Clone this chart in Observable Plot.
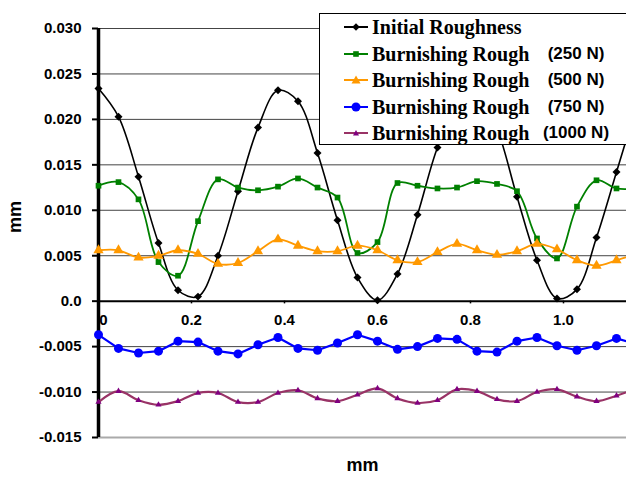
<!DOCTYPE html>
<html><head><meta charset="utf-8">
<script src="https://cdn.jsdelivr.net/npm/d3@7"></script>
<script src="https://cdn.jsdelivr.net/npm/@observablehq/plot@0.6"></script>
<style>
body{margin:0;background:#fff;}
#wrap{position:relative;width:626px;height:480px;overflow:hidden;background:#fff;}
#legend{position:absolute;left:319px;top:13px;width:340px;height:130px;border:1px solid #000;background:#fff;}
.row{position:absolute;left:0;height:24px;width:340px;}
.row svg{position:absolute;left:23px;top:6px;}
.name{position:absolute;left:52px;top:0;line-height:24px;font-family:'Liberation Serif','Times New Roman',serif;font-weight:bold;font-size:20px;color:#000;white-space:nowrap;}
.force{position:absolute;left:206px;width:100px;text-align:center;top:0;line-height:24px;font-family:'Liberation Sans',Arial,sans-serif;font-weight:bold;font-size:17px;color:#000;white-space:nowrap;}
</style>
</head><body>
<div id="wrap"><div id="chart"></div><div id="legend"></div></div>
<script>
// Distance along profile (mm)
const position = [0, 0.043, 0.086, 0.129, 0.171, 0.214, 0.257, 0.3, 0.343, 0.386, 0.429, 0.471, 0.514, 0.557, 0.6, 0.643, 0.686, 0.729, 0.771, 0.814, 0.857, 0.9, 0.943, 0.986, 1.029, 1.071, 1.114, 1.157];

const initialRoughness = [0.0234, 0.0203, 0.0137, 0.0064, 0.0012, 0.0005, 0.0050, 0.0121, 0.0191, 0.0232, 0.0220, 0.0163, 0.0089, 0.0026, 0.0001, 0.0030, 0.0095, 0.0169, 0.0215, 0.0232, 0.0190, 0.0115, 0.0045, 0.0003, 0.0013, 0.0070, 0.0142, 0.0215];
const rough250 = [0.0127, 0.0131, 0.0112, 0.0043, 0.0028, 0.0088, 0.0134, 0.0125, 0.0122, 0.0126, 0.0135, 0.0125, 0.0114, 0.0053, 0.0065, 0.0130, 0.0127, 0.0124, 0.0125, 0.0132, 0.0129, 0.0121, 0.0069, 0.0047, 0.0104, 0.0133, 0.0124, 0.0124];
const rough500 = [0.0056, 0.0056, 0.0048, 0.0050, 0.0056, 0.0052, 0.0041, 0.0042, 0.0055, 0.0068, 0.0061, 0.0055, 0.0055, 0.0061, 0.0056, 0.0045, 0.0043, 0.0054, 0.0063, 0.0056, 0.0051, 0.0055, 0.0063, 0.0057, 0.0045, 0.0039, 0.0045, 0.0052];
const rough750 = [-0.0037, -0.0052, -0.0057, -0.0055, -0.0044, -0.0045, -0.0055, -0.0058, -0.0048, -0.0040, -0.0052, -0.0054, -0.0046, -0.0037, -0.0044, -0.0053, -0.0050, -0.0041, -0.0042, -0.0055, -0.0056, -0.0044, -0.0040, -0.0049, -0.0054, -0.0049, -0.0041, -0.0047];
const rough1000 = [-0.0111, -0.0099, -0.0109, -0.0114, -0.0110, -0.0101, -0.0101, -0.0111, -0.0111, -0.0101, -0.0098, -0.0107, -0.0110, -0.0103, -0.0096, -0.0107, -0.0112, -0.0109, -0.0097, -0.0099, -0.0108, -0.0110, -0.0100, -0.0097, -0.0105, -0.0110, -0.0104, -0.0096];

const seriesNames = ["Initial Roughness", "Burnishing Rough", "Burnishing Rough", "Burnishing Rough", "Burnishing Rough"];
const seriesForces = ["", "(250 N)", "(500 N)", "(750 N)", "(1000 N)"];

const yTicks = [-0.015, -0.010, -0.005, 0, 0.005, 0.010, 0.015, 0.020, 0.025, 0.030];
const gridTicks = [-0.010, -0.005, 0.005, 0.010, 0.015, 0.020, 0.025, 0.030];
const xTicks = [0, 0.2, 0.4, 0.6, 0.8, 1.0];
const xTickLabels = ["0", "0.2", "0.4", "0.6", "0.8", "1.0"];
const axisTitle = "mm";

// styles
const styles = [
  {line: "#000000", fill: "#000000", symbol: "diamond2", r: 3.6, width: 1.6, curve: "catmull-rom"},
  {line: "#008000", fill: "#008000", symbol: "square", r: 3.2, width: 1.8, curve: "catmull-rom"},
  {line: "#FF9900", fill: "#FF9900", symbol: "triangle", r: 3.8, width: 1.8, curve: "catmull-rom"},
  {line: "#0000FF", fill: "#0000FF", symbol: "circle", r: 4.5, width: 2.2, curve: "linear"},
  {line: "#993366", fill: "#800080", symbol: "triangle", r: 2.3, width: 2.2, curve: "catmull-rom"}
];
const valueLists = [initialRoughness, rough250, rough500, rough750, rough1000];

const seriesMarks = valueLists.flatMap((vals, k) => {
  const rows = position.map((p, i) => ({x: p, y: vals[i]}));
  const s = styles[k];
  return [
    Plot.line(rows, {x: "x", y: "y", stroke: s.line, strokeWidth: s.width, curve: s.curve}),
    Plot.dot(rows, {x: "x", y: "y", symbol: () => s.symbol, r: s.r, fill: s.fill, stroke: "none"})
  ];
});

const chart = Plot.plot({
  width: 626, height: 480,
  marginLeft: 98, marginRight: 0, marginTop: 28, marginBottom: 43,
  x: {domain: [0, 1.1355], axis: null},
  y: {domain: [-0.015, 0.030], axis: null},
  symbol: {type: "identity"},
  style: {fontFamily: "'Liberation Sans', Arial, sans-serif", background: "white", color: "#000"},
  marks: [
    Plot.ruleY(gridTicks, {stroke: "#444", strokeWidth: 1}),
    Plot.ruleY([-0.015], {stroke: "#aaa", strokeWidth: 2}),
    Plot.ruleY([0], {stroke: "#000", strokeWidth: 2}),
    Plot.ruleX(xTicks, {x: d => d, y1: 0, y2: -0.0003, stroke: "#000", strokeWidth: 1.5}),
    Plot.text(xTicks, {x: d => d, y: 0, dy: 19, dx: 0, text: (d, i) => xTickLabels[i], fontSize: 15, fontWeight: "bold", fill: "#000", filter: (d, i) => i > 0}),
    Plot.text(xTicks.slice(0, 1), {x: d => d, y: 0, dy: 19, dx: 5, text: () => xTickLabels[0], fontSize: 15, fontWeight: "bold", fill: "#000"}),
    Plot.axisY(yTicks, {tickFormat: d => d === 0 ? "0.0" : d.toFixed(3), tickSize: 6, tickPadding: 11, fontSize: 15, fontWeight: "bold", strokeWidth: 2, label: null, fill: "#000"}),
    Plot.ruleX([0], {y1: -0.015, y2: 0.030, stroke: "#000", strokeWidth: 3.5}),
    ...seriesMarks,
    Plot.text([axisTitle], {frameAnchor: "left", dx: -83, rotate: -90, fontSize: 18, fontWeight: "bold", fill: "#000"}),
    Plot.text([axisTitle], {frameAnchor: "bottom", dy: 33, fontSize: 18, fontWeight: "bold", fill: "#000"})
  ]
});
document.getElementById("chart").appendChild(chart);

// legend
const legend = document.getElementById("legend");
const rowCenters = [13, 39.5, 66, 92.5, 119];
const symPath = {
  diamond2: "M13,2.2L16.8,6L13,9.8L9.2,6Z",
  square: "M10.2,3.2H15.8V8.8H10.2Z",
  triangle: "M13,1.5L17.5,9.5H8.5Z",
  tri_small: "M13,3L16,8.5H10Z"
};
seriesNames.forEach((name, k) => {
  const s = styles[k];
  const row = document.createElement("div");
  row.className = "row";
  row.style.top = (rowCenters[k] - 12) + "px";
  let marker;
  if (s.symbol === "circle") marker = `<circle cx="13" cy="6" r="4.5" fill="${s.fill}"/>`;
  else if (k === 4) marker = `<path d="${symPath.tri_small}" fill="${s.fill}"/>`;
  else marker = `<path d="${symPath[s.symbol]}" fill="${s.fill}"/>`;
  row.innerHTML = `<svg width="26" height="12"><line x1="1" y1="6" x2="25" y2="6" stroke="${s.line}" stroke-width="2"/>${marker}</svg>` +
    `<span class="name">${name}</span>` + (seriesForces[k] ? `<span class="force">${seriesForces[k]}</span>` : "");
  legend.appendChild(row);
});
</script>
</body></html>
